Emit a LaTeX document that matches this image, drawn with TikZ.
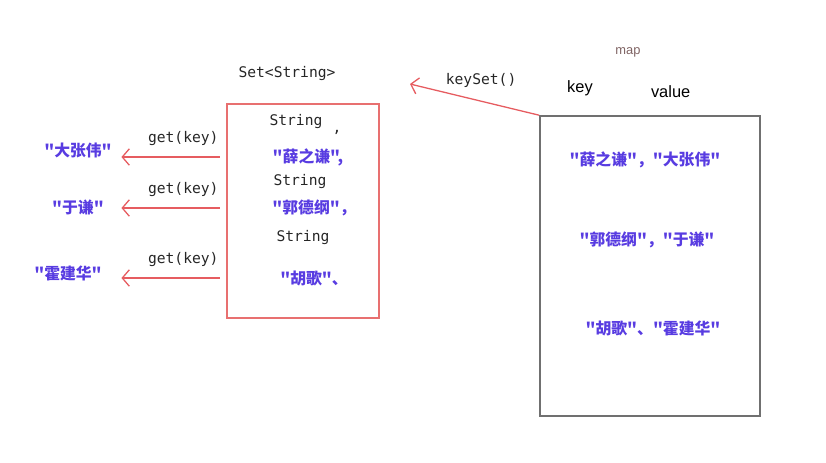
\documentclass[tikz,border=0pt]{standalone}
\usepackage{fontspec}
\setmainfont{Liberation Sans}
\newfontfamily\cjk{Noto Sans CJK SC}
\newfontfamily\codefont{DejaVu Sans Mono}
\usepackage{xcolor}
\usetikzlibrary{shapes,arrows.meta,positioning,calc}

\definecolor{setred}{RGB}{232,112,112}
\definecolor{arrowred}{RGB}{230,92,96}
\definecolor{mapgray}{RGB}{112,112,112}
\definecolor{nameblue}{RGB}{88,60,225}
\definecolor{maptext}{RGB}{128,100,100}

\begin{document}
\begin{tikzpicture}[x=0.03cm, y=-0.03cm, node distance=0.2cm,
  code/.style={font=\codefont\fontsize{12.5}{14}\selectfont, text=black!85, inner sep=1pt},
  cname/.style={font=\cjk\bfseries\fontsize{13.5}{15}\selectfont, text=nameblue, inner sep=1pt},
  getarrow/.style={draw=arrowred, line width=1.1pt, -{Straight Barb[length=6pt,width=14pt]}}]
\useasboundingbox (0,0) rectangle (826,462);
% the set of keys
\node[draw=setred, line width=1.2pt, minimum width=4.56cm, minimum height=6.42cm] (set) at (303,211) {};
\node[code] (settitle) at (287,74) {Set<String>};
\node[code] (s1) at (296,122) {String};
\node[code] at (337,132) {,};
\node[cname] (k1) at (308,157) {"薛之谦",};
\node[code] (s2) at (300,182) {String};
\node[cname] (k2) at (314,208) {"郭德纲"，};
\node[code] (s3) at (303,238) {String};
\node[cname] (k3) at (314,278) {"胡歌"、};
% the map
\node[draw=mapgray, line width=1.3pt, minimum width=6.6cm, minimum height=9cm] (map) at (650,266) {};
\node[font=\fontsize{11}{13}\selectfont, text=maptext] (maplabel) at (628,52) {map};
\node[font=\fontsize{14}{16}\selectfont] (key) at (580,88) {key};
\node[font=\fontsize{14}{16}\selectfont, right=1.5cm of key, yshift=-0.1cm] (value) {value};
\node[cname] (m1) at (645,160) {"薛之谦"，"大张伟"};
\node[cname] (m2) at (647,240) {"郭德纲"，"于谦"};
\node[cname] (m3) at (653,328) {"胡歌"、"霍建华"};
% values
\node[cname] (v1) at (78,150) {"大张伟"};
\node[cname] (v2) at (78,207) {"于谦"};
\node[cname] (v3) at (68,273) {"霍建华"};
\coordinate (ks) at (410,84);
\draw[getarrow] (map.north west) -- node[code, pos=0.45, above=0.35cm] (kslabel) {keySet()} (ks);
\draw[getarrow] ([xshift=-0.2cm]set.west |- k1) -- node[code, pos=0.37, above=0.3cm] {get(key)} ([xshift=0.25cm]k1 -| v1.east);
\draw[getarrow] ([xshift=-0.2cm]set.west |- k2) -- node[code, pos=0.37, above=0.3cm] {get(key)} ([xshift=0.25cm]k2 -| v1.east);
\draw[getarrow] ([xshift=-0.2cm]set.west |- k3) -- node[code, pos=0.37, above=0.3cm] {get(key)} ([xshift=0.25cm]k3 -| v1.east);
\end{tikzpicture}
\end{document}
